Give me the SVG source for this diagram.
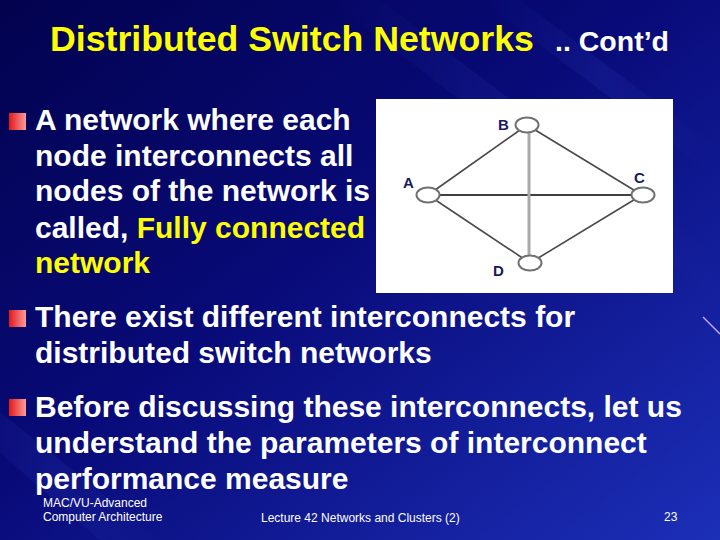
<svg xmlns="http://www.w3.org/2000/svg" width="720" height="540" viewBox="0 0 720 540">
<defs>
<linearGradient id="bg" x1="0" y1="0" x2="1" y2="1">
<stop offset="0" stop-color="#02024e"/>
<stop offset="0.45" stop-color="#080a78"/>
<stop offset="1" stop-color="#1c2fb8"/>
</linearGradient>
<linearGradient id="bul" x1="0" y1="0" x2="1" y2="0">
<stop offset="0" stop-color="#e01818"/>
<stop offset="1" stop-color="#ff9a9a"/>
</linearGradient>
<linearGradient id="streak" x1="0" y1="0" x2="1" y2="0">
<stop offset="0" stop-color="#3a50d0" stop-opacity="0"/>
<stop offset="0.5" stop-color="#3a50d0" stop-opacity="0.25"/>
<stop offset="1" stop-color="#3a50d0" stop-opacity="0"/>
</linearGradient>
</defs>
<style>
.body{font-family:"Liberation Sans",Arial,sans-serif;font-weight:bold;font-size:30px;fill:#ffffff}
.hl{fill:#ffff00}
.bullet{fill:url(#bul)}
.foot{font-family:"Liberation Sans",Arial,sans-serif;font-size:12px;fill:#ffffff}
.node ellipse{fill:#ffffff;stroke:#707070;stroke-width:2}
.lbl{font-family:"Liberation Sans",Arial,sans-serif;font-weight:bold;font-size:15px;fill:#1a1a60}
</style>
<rect width="720" height="540" fill="url(#bg)"/>
<g opacity="0.6">
<polygon points="330,0 380,0 720,260 720,300" fill="url(#streak)"/>
<polygon points="480,0 520,0 720,150 720,180" fill="url(#streak)"/>
<polygon points="100,540 160,540 -40,380 -60,400" fill="url(#streak)"/>
</g>
<line x1="703" y1="317" x2="720" y2="334" stroke="#c8a8ff" stroke-width="1.5"/>

<text x="50" y="51" font-family="Liberation Sans,Arial,sans-serif" font-weight="bold" font-size="35.7" fill="#ffff00">Distributed Switch Networks</text>
<text x="555" y="51" font-family="Liberation Sans,Arial,sans-serif" font-weight="bold" font-size="28.5" fill="#ffffff">.. Cont’d</text>

<rect class="bullet" x="9" y="113" width="17" height="17"/>
<text class="body" x="35" y="130">A network where each</text>
<text class="body" x="35" y="166">node interconnects all</text>
<text class="body" x="35" y="201">nodes of the network is</text>
<text class="body" x="35" y="238">called, <tspan class="hl">Fully connected</tspan></text>
<text class="body hl" x="35" y="273">network</text>

<rect class="bullet" x="9" y="310" width="17" height="17"/>
<text class="body" x="35" y="327">There exist different interconnects for</text>
<text class="body" x="35" y="363">distributed switch networks</text>

<rect class="bullet" x="9" y="399" width="17" height="17"/>
<text class="body" x="35" y="417">Before discussing these interconnects, let us</text>
<text class="body" x="35" y="453">understand the parameters of interconnect</text>
<text class="body" x="35" y="489">performance measure</text>

<rect x="376" y="99" width="297" height="194" fill="#ffffff"/>
<g id="connectors">
<line x1="428" y1="195" x2="527" y2="125" stroke="#4a4a4a" stroke-width="1.6"/>
<line x1="527" y1="125" x2="642" y2="195" stroke="#4a4a4a" stroke-width="1.6"/>
<line x1="642" y1="195" x2="530" y2="263" stroke="#4a4a4a" stroke-width="1.6"/>
<line x1="530" y1="263" x2="428" y2="195" stroke="#4a4a4a" stroke-width="1.6"/>
<line x1="428" y1="195" x2="642" y2="195" stroke="#000000" stroke-width="1.6"/>
<line x1="529" y1="125" x2="529" y2="263" stroke="#a8a8a8" stroke-width="3"/>
</g>
<g id="node-B" class="node"><ellipse cx="527" cy="125" rx="11.5" ry="7.5"/><text class="lbl" x="498" y="130">B</text></g>
<g id="node-A" class="node"><ellipse cx="428" cy="195" rx="11.5" ry="7.5"/><text class="lbl" x="403" y="188">A</text></g>
<g id="node-C" class="node"><ellipse cx="643" cy="195" rx="11.5" ry="7.5"/><text class="lbl" x="634" y="183">C</text></g>
<g id="node-D" class="node"><ellipse cx="530" cy="263" rx="11.5" ry="7.5"/><text class="lbl" x="493" y="276">D</text></g>

<text class="foot" x="43" y="507">MAC/VU-Advanced</text>
<text class="foot" x="43" y="521">Computer Architecture</text>
<text class="foot" x="261" y="522">Lecture 42 Networks and Clusters (2)</text>
<text class="foot" x="664" y="521">23</text>
</svg>
